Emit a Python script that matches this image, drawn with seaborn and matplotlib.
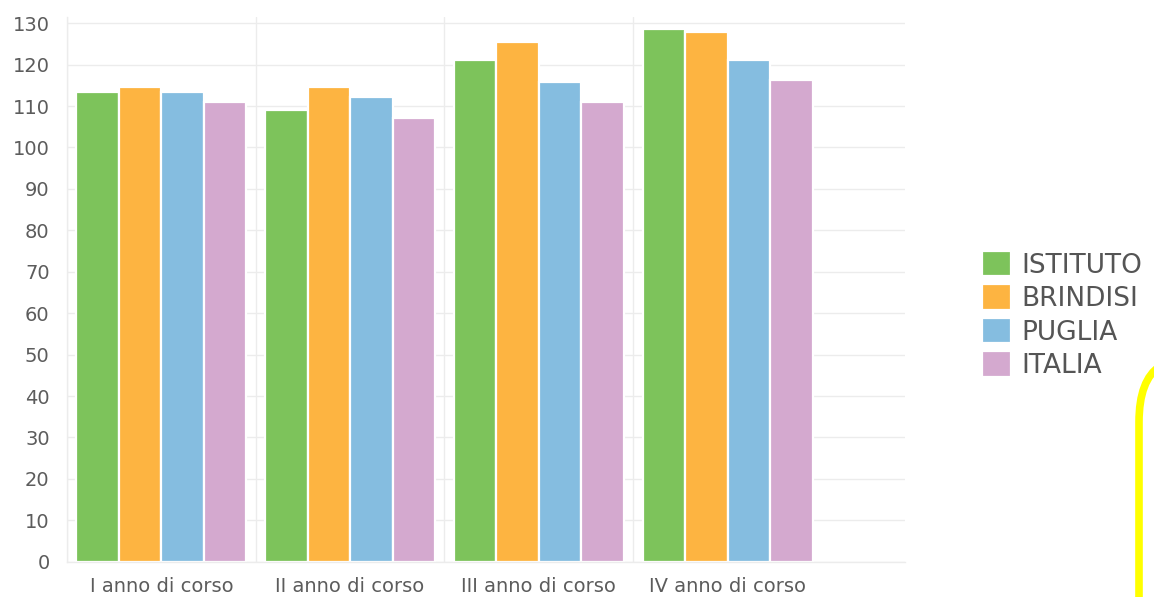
import matplotlib
matplotlib.use("Agg")
import matplotlib.pyplot as plt
from matplotlib.path import Path
from matplotlib.patches import PathPatch
import seaborn as sns
import pandas as pd

# Values per year of course
categories = ["I anno di corso", "II anno di corso", "III anno di corso", "IV anno di corso"]
series = ["ISTITUTO", "BRINDISI", "PUGLIA", "ITALIA"]
istituto = [113.5, 109.1, 121.1, 128.7]
brindisi = [114.7, 114.5, 125.5, 127.9]
puglia = [113.4, 112.1, 115.9, 121.1]
italia = [111.0, 107.2, 110.9, 116.4]
colors = ["#7dc35b", "#fdb441", "#85bde0", "#d4a9cf"]
y_ticks = list(range(0, 131, 10))

sns.set_theme(style="white")
plt.rcParams["font.family"] = ["DejaVu Sans"]

rows = []
for name, vals in zip(series, [istituto, brindisi, puglia, italia]):
    for cat, v in zip(categories, vals):
        rows.append({"corso": cat, "area": name, "valore": v})
df = pd.DataFrame(rows)

W, H = 1154, 597
fig = plt.figure(figsize=(W / 100, H / 100), dpi=100)
ax = fig.add_axes([67 / W, 1 - 561.7 / H, (905 - 67) / W, (561.7 - 17) / H])

sns.barplot(data=df, x="corso", y="valore", hue="area", order=categories,
            hue_order=series, palette=colors, width=0.9, saturation=1,
            edgecolor="white", linewidth=1.6, ax=ax)

handles, labels = ax.get_legend_handles_labels()
ax.get_legend().remove()

grid_c = "#ececec"
ax.set_xlim(-0.5, 3.94)
ax.set_ylim(0, 131.5)
ax.set_yticks(y_ticks)
ax.set_xlabel("")
ax.set_ylabel("")

for s in ["top", "right"]:
    ax.spines[s].set_visible(False)
for s in ["left", "bottom"]:
    ax.spines[s].set_color(grid_c)
    ax.spines[s].set_linewidth(1)

ax.set_axisbelow(True)
ax.yaxis.grid(True, color=grid_c, linewidth=1)
ax.set_xticks([-0.5, 0.5, 1.5, 2.5], minor=True)
ax.xaxis.grid(True, which="minor", color=grid_c, linewidth=1)

ax.tick_params(axis="y", length=7.5, width=1, color=grid_c, pad=5,
               labelsize=14, labelcolor="#5c5c5c")
ax.tick_params(axis="x", which="major", length=0, pad=11,
               labelsize=14, labelcolor="#5c5c5c")
ax.tick_params(axis="x", which="minor", length=6, width=1, color=grid_c)

fig.legend(handles, labels, loc="center left",
           bbox_to_anchor=(982 / W, 1 - 315 / H), frameon=False,
           fontsize=19, handlelength=1.1, handleheight=1.1,
           handletextpad=0.4, labelspacing=0.22, borderpad=0,
           borderaxespad=0, labelcolor="#555555")

# Yellow highlight stroke at the lower right
pts = [(1160, 366), (1139, 380), (1139, 422), (1139, 600)]
verts = [(x / W, 1 - y / H) for x, y in pts]
path = Path(verts, [Path.MOVETO, Path.CURVE3, Path.CURVE3, Path.LINETO])
fig.add_artist(PathPatch(path, fill=False, edgecolor="#ffff00", lw=5.5,
                         transform=fig.transFigure, clip_on=False,
                         capstyle="butt"))

fig.savefig("out.png", dpi=100)
